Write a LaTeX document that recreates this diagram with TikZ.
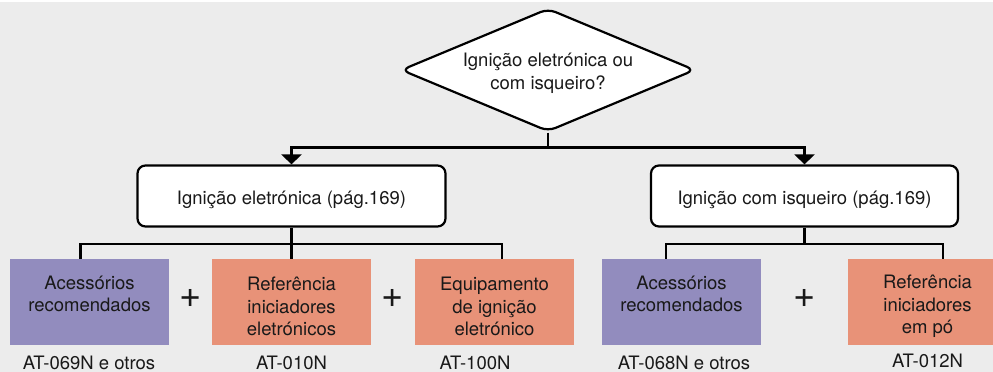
\documentclass[tikz,border=0pt]{standalone}
\usepackage{fontspec}
\setmainfont{TeX Gyre Heros}
\usetikzlibrary{shapes.geometric,arrows.meta,backgrounds}
\definecolor{bgc}{RGB}{236,236,236}
\definecolor{purp}{RGB}{146,140,190}
\definecolor{oran}{RGB}{232,146,120}
\tikzset{
  every node/.style={font=\fontsize{18.5}{22.5}\selectfont,text=black!90},
  conn/.style={line width=2.2pt,draw=black},
  arr/.style={conn,-{Triangle[width=20pt,length=10pt]}},
  dec/.style={draw=black,line width=2.2pt,fill=white,shape=diamond,aspect=2.42,minimum width=294pt,minimum height=123pt,inner sep=0pt,rounded corners=8pt},
  choice/.style={draw=black,line width=2.2pt,fill=white,rounded corners=8pt,minimum height=61pt,inner sep=0pt},
  item/.style={minimum height=86pt,minimum width=159pt,inner sep=0pt},
  purpbox/.style={item,fill=purp},
  oranbox/.style={item,fill=oran},
  lab/.style={align=center,anchor=center,inner sep=0pt},
  plusn/.style={font=\fontsize{38}{38}\selectfont,inner sep=0pt},
  refn/.style={inner sep=0pt,anchor=base}
}
\begin{document}
\begin{tikzpicture}[x=1pt,y=-1pt]
\useasboundingbox (0,0) rectangle (993,372);
\node[dec] (q) at (548,70) {};
\node[choice,minimum width=308pt] (e) at (291.5,196) {};
\node[choice,minimum width=307pt] (i) at (804.5,196) {};
\node[purpbox] (a1) at (89.5,302) {};
\node[oranbox] (r1) at (291.5,302) {};
\node[oranbox] (q1) at (494.5,302) {};
\node[purpbox] (a2) at (681.5,302) {};
\node[oranbox,minimum width=145pt] (r2) at (920.5,302) {};
\node[lab] (tq) at (548,73.5) {Ignição eletrónica ou\\com isqueiro?};
\node[lab] (te) at (291.5,199.5) {Ignição eletrónica (pág.169)};
\node[lab] (ti) at (804.5,199.5) {Ignição com isqueiro (pág.169)};
\node[lab] (ta1) at (89.5,294) {Acessórios\\recomendados};
\node[lab] (tr1) at (291.5,306.5) {Referência\\iniciadores\\eletrónicos};
\node[lab] (tq1) at (494.5,306.5) {Equipamento\\de ignição\\eletrónico};
\node[lab] (ta2) at (681.5,294) {Acessórios\\recomendados};
\node[lab] (tr2) at (927.5,306.5) {Referência\\iniciadores\\em pó};
\node[plusn] (p1) at (190.5,298) {+};
\node[plusn] (p2) at (392.5,298) {+};
\node[plusn] (p3) at (804.5,298) {+};
\node[refn] (c1) at (89,369.5) {AT-069N e otros};
\node[refn] (c2) at (291.5,369.5) {AT-010N};
\node[refn] (c3) at (475,369.5) {AT-100N};
\node[refn] (c4) at (684,369.5) {AT-068N e otros};
\node[refn] (c5) at (927.5,367) {AT-012N};
\coordinate (bar) at (548,147.5);
\coordinate (be) at (80.5,244);
\coordinate (bq) at (502,244);
\coordinate (bm) at (666,244);
\coordinate (bt) at (943,244);
\begin{scope}[on background layer]
\fill[bgc] (0,2) rectangle (993,372);
\draw[conn] (q.south) -- (bar);
\draw[arr] (bar) -| (e.north);
\draw[arr] (bar) -| (i.north);
\draw[conn] (e.south) -- (r1.north);
\draw[conn] (be |- r1.north) -- (be) -- (bq) -- (bq |- q1.north);
\draw[conn] (i.south) -- (i.south |- bm);
\draw[conn] (bm |- a2.north) -- (bm) -- (bt) -- (bt |- r2.north);
\end{scope}
\end{tikzpicture}
\end{document}
